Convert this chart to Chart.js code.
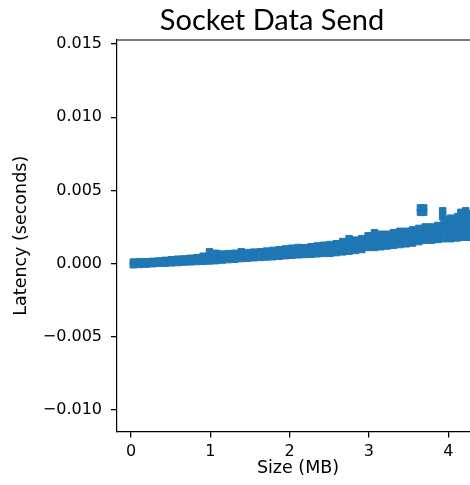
<!DOCTYPE html>
<html>
<head>
<meta charset="utf-8">
<title>Socket Data Send</title>
<script src="https://cdn.jsdelivr.net/npm/chart.js@4/dist/chart.umd.min.js"></script>
<style>
    html, body { margin: 0; padding: 0; background: #fff; }
    /* the reference is cropped on the right, so the canvas is wider than the window */
    #wrap { width: 470px; height: 485px; overflow: hidden; }
</style>
</head>
<body>
<div id="wrap">
    <canvas id="latency-chart" width="543" height="485"></canvas>
</div>
<script>
// Message sizes (MB) along the band
const sizes = [
    0.03, 0.11, 0.19, 0.27, 0.35, 0.43, 0.51, 0.59, 0.67, 0.75,
    0.83, 0.91, 0.99, 1.07, 1.15, 1.23, 1.31, 1.39, 1.47, 1.55,
    1.63, 1.71, 1.79, 1.87, 1.95, 2.03, 2.11, 2.19, 2.27, 2.35,
    2.43, 2.51, 2.59, 2.67, 2.75, 2.83, 2.91, 2.99, 3.07, 3.15,
    3.23, 3.31, 3.39, 3.47, 3.55, 3.63, 3.71, 3.79, 3.87, 3.95,
    4.03, 4.11, 4.19, 4.25
];

// Lowest latency seen at each size (seconds)
const latencyLow = [
    -0.00008, -0.00006, -0.00004, -0.00001, 0.00002, 0.00003, 0.00005, 0.00007, 0.0001, 0.00012,
    0.00014, 0.00016, 0.00018, 0.0002, 0.00024, 0.00027, 0.0003, 0.00034, 0.00037, 0.0004,
    0.00042, 0.00045, 0.00047, 0.0005, 0.00054, 0.00057, 0.0006, 0.00062, 0.00064, 0.00067,
    0.0007, 0.0007, 0.00075, 0.0008, 0.00085, 0.0009, 0.00096, 0.0011, 0.0011, 0.00115,
    0.0012, 0.00125, 0.0013, 0.00135, 0.0014, 0.0015, 0.0016, 0.0016, 0.00165, 0.0017,
    0.0017, 0.00175, 0.0018, 0.0018
];

// Samples inside the band (null where the band is thin)
const latencyMid = [
    null, null, null, null, null, null, null, null, null, null,
    null, 0.0003, 0.00045, 0.00045, 0.00045, 0.00048, 0.0005, 0.00057, 0.00056, 0.00059,
    0.00061, 0.00065, 0.00068, 0.00072, 0.00077, 0.00081, 0.00085, 0.00085, 0.0009, 0.00093,
    0.00097, 0.0009, 0.00095, 0.00103, 0.00113, 0.00113, 0.0012, 0.00137, 0.00143, 0.00143,
    0.00147, 0.00153, 0.0016, 0.00164, 0.0017, 0.0018, 0.0019, 0.0019, 0.00197, 0.00207,
    0.00217, 0.00217, 0.00227, 0.00223
];

const latencyUpper = [
    null, null, null, null, null, null, null, null, null, null,
    null, null, null, null, null, null, null, null, null, null,
    null, null, null, null, null, null, null, null, null, null,
    null, 0.0011, 0.00115, 0.00127, 0.00142, 0.00137, 0.00145, 0.00163, 0.00177, 0.00172,
    0.00173, 0.00182, 0.0019, 0.00192, 0.002, 0.0021, 0.0022, 0.0022, 0.00228, 0.00243,
    0.00263, 0.00258, 0.00273, 0.00267
];

// Highest latency seen at each size (seconds)
const latencyHigh = [
    0.0001, 0.00013, 0.00012, 0.00015, 0.00018, 0.00022, 0.00026, 0.0003, 0.00032, 0.00036,
    0.0004, 0.0005, 0.0008, 0.0007, 0.00065, 0.00068, 0.0007, 0.0008, 0.00075, 0.00078,
    0.0008, 0.00085, 0.0009, 0.00095, 0.001, 0.00105, 0.0011, 0.00108, 0.00115, 0.0012,
    0.00125, 0.0013, 0.00135, 0.0015, 0.0017, 0.0016, 0.0017, 0.0019, 0.0021, 0.002,
    0.002, 0.0021, 0.0022, 0.0022, 0.0023, 0.0024, 0.0025, 0.0025, 0.0026, 0.0028,
    0.0031, 0.003, 0.0032, 0.0031
];

// The few slow sends sitting above the band
const outlierSizes = [3.65, 3.69, 3.65, 3.69, 3.93, 3.93, 3.95, 4.12, 4.16, 4.22, 4.25];
const outlierLatency = [0.0035, 0.0035, 0.0038, 0.0038, 0.0036, 0.0032, 0.003, 0.0032, 0.0035, 0.0036, 0.0034];

// Axis limits and tick steps
const xLimits = [-0.1765, 4.388];
const yLimits = [-0.01147, 0.01527];
const xTickStep = 1;
const yTickStep = 0.005;

// Build the point list for the scatter from the arrays above
const points = [];
[latencyLow, latencyMid, latencyUpper, latencyHigh].forEach(row => {
    sizes.forEach((s, i) => {
        if (row[i] !== null) points.push({ x: s, y: row[i] });
    });
});
outlierSizes.forEach((s, i) => points.push({ x: s, y: outlierLatency[i] }));

// Matplotlib draws a top spine too, Chart.js does not
const topSpine = {
    id: 'topSpine',
    afterDraw(chart) {
        const { ctx, chartArea } = chart;
        ctx.save();
        ctx.strokeStyle = '#000';
        ctx.lineWidth = 1.2;
        ctx.beginPath();
        ctx.moveTo(chartArea.left, chartArea.top);
        ctx.lineTo(chartArea.right, chartArea.top);
        ctx.stroke();
        ctx.restore();
    }
};

// The title was put on the figure, not centred over the axes, so draw it here
const figureTitle = {
    id: 'figureTitle',
    afterDraw(chart) {
        const ctx = chart.ctx;
        ctx.save();
        ctx.fillStyle = '#000';
        ctx.font = "29px Lato, 'Open Sans', sans-serif";
        ctx.textAlign = 'center';
        ctx.textBaseline = 'alphabetic';
        ctx.fillText('Socket Data Send', 272, 30);
        ctx.restore();
    }
};

// Tick label format like matplotlib (unicode minus)
function fmt(v, digits) {
    if (Math.abs(v) < 1e-12) v = 0;
    return v.toFixed(digits).replace('-', '\u2212');
}

Chart.defaults.color = '#000';
Chart.defaults.font.family = "'DejaVu Sans', sans-serif";

const ctx = document.getElementById('latency-chart').getContext('2d');
new Chart(ctx, {
    type: 'scatter',
    data: {
        datasets: [{
            label: 'Socket Data Send',
            data: points,
            pointStyle: 'rect',
            pointRadius: 4.6,
            pointHoverRadius: 4.6,
            backgroundColor: '#1f77b4',
            borderColor: '#1f77b4',
            borderWidth: 1
        }]
    },
    options: {
        responsive: false,
        animation: false,
        // top padding leaves room for the figure title
        layout: { padding: { left: 0, right: 64, top: 40, bottom: 0 } },
        plugins: {
            legend: { display: false },
            tooltip: { enabled: false },
            title: { display: false }
        },
        scales: {
            x: {
                type: 'linear',
                min: xLimits[0],
                max: xLimits[1],
                afterFit: scale => { scale.height = 53.5; },
                ticks: {
                    stepSize: xTickStep,
                    includeBounds: false,
                    padding: 5,
                    font: { size: 16 },
                    callback: v => fmt(v, 0)
                },
                grid: { drawOnChartArea: false, drawTicks: true, tickLength: 6, lineWidth: 1.3, color: '#000' },
                border: { display: true, color: '#000', width: 1.2 },
                title: { display: true, text: 'Size (MB)', font: { size: 17.5 }, padding: { top: 0, bottom: 6 } }
            },
            y: {
                type: 'linear',
                min: yLimits[0],
                max: yLimits[1],
                afterFit: scale => { scale.width = 117; },
                ticks: {
                    stepSize: yTickStep,
                    includeBounds: false,
                    padding: 9,
                    font: { size: 16 },
                    callback: v => fmt(v, 3)
                },
                grid: { drawOnChartArea: false, drawTicks: true, tickLength: 6, lineWidth: 1.3, color: '#000' },
                border: { display: true, color: '#000', width: 1.2 },
                title: { display: true, text: 'Latency (seconds)', font: { size: 17.5 }, padding: { top: 11, bottom: 0 } }
            }
        }
    },
    plugins: [topSpine, figureTitle]
});
</script>
</body>
</html>
